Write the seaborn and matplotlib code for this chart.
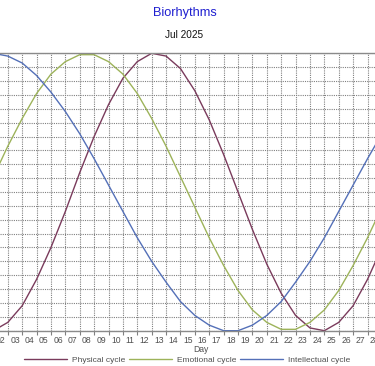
import matplotlib
matplotlib.use("Agg")
import matplotlib.pyplot as plt
import seaborn as sns
import pandas as pd
import numpy as np

# ---- data ----
days = list(range(1, 32))
physical = [-98, -100, -94, -82, -63, -40, -14, 14, 40, 63, 82, 94, 100, 98, 89, 73,
            52, 27, 0, -27, -52, -73, -89, -98, -100, -94, -82, -63, -40, -14, 14]
emotional = [-11, 11, 33, 53, 71, 85, 94, 99, 99, 94, 85, 71, 53, 33, 11, -11,
             -33, -53, -71, -85, -94, -99, -99, -94, -85, -71, -53, -33, -11, 11, 33]
intellectual = [98, 100, 98, 93, 84, 72, 58, 42, 24, 5, -14, -33, -50, -65, -79, -89,
                -96, -100, -100, -96, -89, -79, -65, -50, -33, -14, 5, 24, 42, 58, 72]
series_names = ["Physical cycle", "Emotional cycle", "Intellectual cycle"]
day_labels = [f"{d:02d}" for d in days]
title = "Biorhythms"
subtitle = "Jul 2025"
xlabel = "Day"

colors = {"Physical cycle": "#7a3b5c",
          "Emotional cycle": "#9db35a",
          "Intellectual cycle": "#5470b8"}

df = pd.concat([
    pd.DataFrame({"day": days, "value": vals, "cycle": name})
    for name, vals in zip(series_names, [physical, emotional, intellectual])
])

sns.set_theme(style="white")
plt.rcParams["font.family"] = ["Liberation Sans", "DejaVu Sans"]

W, H = 375, 366
fig = plt.figure(figsize=(W / 100, H / 100), dpi=100)
ax_bottom = (H - 330.7) / H
ax_top = (H - 53.3) / H
ax = fig.add_axes([0, ax_bottom, 1, ax_top - ax_bottom])

sns.lineplot(data=df, x="day", y="value", hue="cycle", palette=colors,
             hue_order=series_names, ax=ax, linewidth=1.0, legend=False)

# gridlines at integer days (minor), labels centred between them (major)
ax.set_xticks(days, minor=True)
ax.set_xticks([d + 0.5 for d in days])
ax.set_xticklabels(day_labels)
ax.set_yticks(np.arange(-100, 101, 10))
ax.set_yticklabels([])
ax.set_xlim(2.458, 28.52)
ax.set_ylim(-100, 100)

ax.tick_params(axis="x", which="major", length=0, labelsize=6.2,
               labelcolor="#505050", pad=3.5)
ax.tick_params(axis="x", which="minor", length=3, width=0.8,
               color="#808080", direction="out", bottom=True)
ax.tick_params(axis="y", length=0)

ax.grid(False)
grid_kw = dict(color="#808080", linestyle=(0, (1, 1)), linewidth=0.8)
ax.xaxis.grid(True, which="minor", **grid_kw)
ax.yaxis.grid(True, which="major", **grid_kw)
ax.set_axisbelow(True)

for side in ["left", "right"]:
    ax.spines[side].set_visible(False)
for side in ["top", "bottom"]:
    ax.spines[side].set_visible(True)
    ax.spines[side].set_color("#8a8a8a")
    ax.spines[side].set_linewidth(1.0)

ax.set_xlabel("")
ax.set_ylabel("")

fig.text(201 / W, 1 - 350 / H, xlabel, ha="center", va="center",
         fontsize=6.2, color="#505050")
fig.text(185 / W, 1 - 13 / H, title, ha="center", va="center",
         fontsize=9.2, color="#1f1fd0")
fig.text(184 / W, 1 - 35 / H, subtitle, ha="center", va="center",
         fontsize=7.2, color="#111111")

handles = [plt.Line2D([], [], color=colors[n], linewidth=1.0) for n in series_names]
fig.legend(handles, series_names, loc="center", bbox_to_anchor=(187 / W, 1 - 360 / H),
           ncol=3, frameon=False, fontsize=6.0, handlelength=5.2,
           handletextpad=0.6, columnspacing=0.4, labelcolor="#505050",
           borderpad=0, borderaxespad=0)

fig.savefig("out.png", dpi=100)
